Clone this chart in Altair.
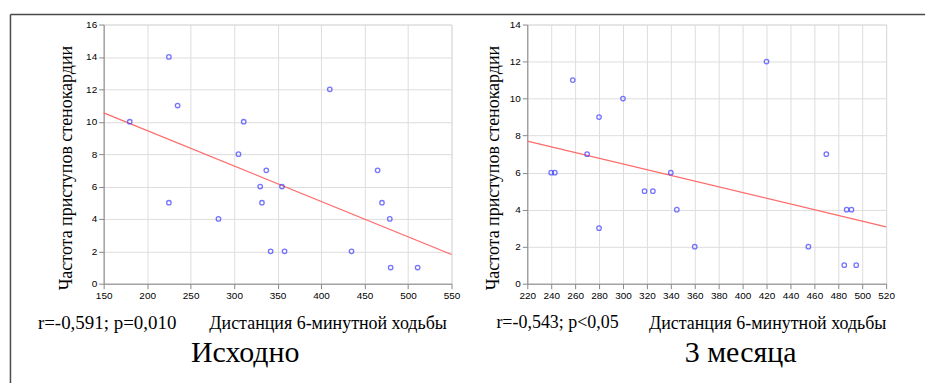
import altair as alt
import pandas as pd

# ---- data ----
left_x = [180, 225, 235, 311, 305, 337, 330, 355, 332, 225, 410, 465, 470, 282, 342, 358, 435, 479, 480, 511]
left_y = [10, 14, 11, 10, 8, 7, 6, 6, 5, 5, 12, 7, 5, 4, 2, 2, 2, 4, 1, 1]
right_x = [240, 243, 258, 270, 280, 300, 318, 325, 340, 420, 470, 280, 345, 360, 455, 487, 491, 485, 495]
right_y = [6, 6, 11, 7, 9, 10, 5, 5, 6, 12, 7, 3, 4, 2, 2, 4, 4, 1, 1]

left_x_ticks = [150, 200, 250, 300, 350, 400, 450, 500, 550]
left_y_ticks = [0, 2, 4, 6, 8, 10, 12, 14, 16]
right_x_ticks = [220, 240, 260, 280, 300, 320, 340, 360, 380, 400, 420, 440, 460, 480, 500, 520]
right_y_ticks = [0, 2, 4, 6, 8, 10, 12, 14]

y_title = "Частота приступов стенокардии"
x_title = "Дистанция 6-минутной ходьбы"
left_stat = "r=-0,591; p=0,010"
right_stat = "r=-0,543; p<0,05"
left_caption = "Исходно"
right_caption = "3 месяца"

SERIF = "Liberation Serif"
TICKFONT = "Liberation Sans"
PH = 260


def label_layer(text, x, y, size, align="left", angle=0, baseline="middle"):
    df = pd.DataFrame({"t": [text]})
    kw = dict(font=SERIF, fontSize=size, color="black", align=align, baseline=baseline)
    if angle:
        kw["angle"] = angle
    return alt.Chart(df).mark_text(**kw).encode(
        x=alt.value(x), y=alt.value(y), text="t:N"
    )


def panel(xs, ys, xticks, yticks, width, stat, caption, offsets, stat_size, frame=False):
    df = pd.DataFrame({"x": xs, "y": ys})
    xdom = [xticks[0], xticks[-1]]
    ydom = [yticks[0], yticks[-1]]
    base = alt.Chart(df).encode(
        x=alt.X("x:Q", scale=alt.Scale(domain=xdom, nice=False, zero=False),
                axis=alt.Axis(values=xticks, title=None, format="d",
                              labelOverlap=False, labelFlush=False)),
        y=alt.Y("y:Q", scale=alt.Scale(domain=ydom, nice=False, zero=True),
                axis=alt.Axis(values=yticks, title=None, format="d",
                              labelOverlap=False, labelFlush=False)),
    )
    pts = base.mark_point(shape="circle", filled=False, size=20,
                          color="#3c3cff", strokeWidth=1.3)
    reg = base.transform_regression("x", "y", extent=xdom).mark_line(
        color="#ff6b6b", strokeWidth=1.3)
    ytx, stx, xtx, capx = offsets
    layers = [
        reg, pts,
        label_layer(y_title, ytx, 144, 18, align="center", angle=270, baseline="bottom"),
        label_layer(stat, stx, 299, stat_size),
        label_layer(x_title, xtx, 300, 18),
        label_layer(caption, capx, 330, 30, align="center"),
    ]
    if frame:
        d1 = pd.DataFrame({"k": [1]})
        layers.append(alt.Chart(d1).mark_rule(color="#4a4a4a", strokeWidth=1.5).encode(
            x=alt.value(-93.5), x2=alt.value(824), y=alt.value(-10)))
        layers.append(alt.Chart(d1).mark_rule(color="#4a4a4a", strokeWidth=1.5).encode(
            x=alt.value(-93.5), y=alt.value(-10), y2=alt.value(360)))
    return alt.layer(*layers).properties(width=width, height=PH)


left = panel(left_x, left_y, left_x_ticks, left_y_ticks, 349,
             left_stat, left_caption, (-28, -66, 106, 142), 19, frame=True)
right = panel(right_x, right_y, right_x_ticks, right_y_ticks, 360,
              right_stat, right_caption, (-24, -31, 122, 214), 18)

chart = alt.hconcat(left, right, spacing=76, bounds="flush").properties(
    padding={"left": 9, "top": 12, "right": 0, "bottom": 0}
).configure_view(
    stroke="#6e6e6e", strokeWidth=1
).configure_axis(
    domain=False, grid=True, gridColor="#e4e4e4", gridWidth=1,
    tickColor="#777", tickSize=3, labelFont=TICKFONT, labelFontSize=8.5,
    labelColor="#4d4d3d", labelPadding=2
).configure(background="white")

chart.save("out.html", embed_options={"renderer": "svg", "actions": False})
